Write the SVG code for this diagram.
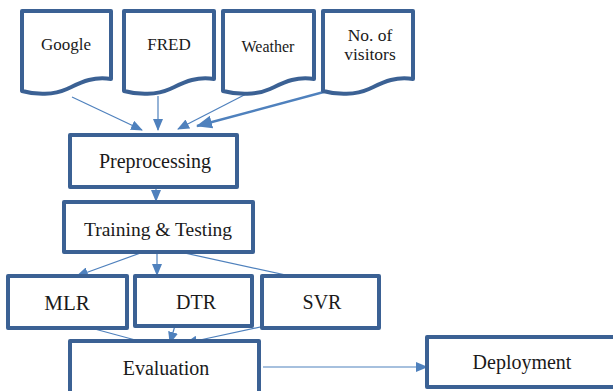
<svg xmlns="http://www.w3.org/2000/svg" width="613" height="391" viewBox="0 0 613 391">
<style>
.box{fill:#fff;stroke:#3b6194;stroke-width:4;stroke-linejoin:round}
.t{font-family:'Liberation Serif','DejaVu Serif',serif;fill:#1a1a1a;text-anchor:middle}
.c{stroke:#4f81bd;stroke-width:1.2;fill:none}
.ck{stroke:#4f81bd;stroke-width:2.4;fill:none}
</style>
<defs>
<marker id="ah" markerUnits="userSpaceOnUse" markerWidth="12" markerHeight="10" refX="11" refY="5" orient="auto">
<path d="M0,0 L12,5 L0,10 Z" fill="#4f81bd"/>
</marker>
<marker id="ahb" markerUnits="userSpaceOnUse" markerWidth="16" markerHeight="13" refX="15" refY="6.5" orient="auto">
<path d="M0,0 L16,6.5 L0,13 Z" fill="#4f81bd"/>
</marker>
</defs>
<g id="connectors">
<line class="c" x1="72" y1="97" x2="142" y2="130" marker-end="url(#ah)"/>
<line class="c" x1="158" y1="96" x2="158" y2="130" marker-end="url(#ah)"/>
<line class="c" x1="252" y1="91" x2="178" y2="129" marker-end="url(#ah)"/>
<line class="ck" x1="361" y1="82" x2="197" y2="126" marker-end="url(#ahb)"/>
<line class="c" x1="156" y1="175" x2="156" y2="201" marker-end="url(#ah)"/>
<line class="c" x1="157" y1="247" x2="77" y2="276" marker-end="url(#ah)"/>
<line class="c" x1="157" y1="247" x2="157" y2="275" marker-end="url(#ah)"/>
<line class="c" x1="157" y1="247" x2="318" y2="282" marker-end="url(#ah)"/>
<line class="c" x1="65" y1="321" x2="165" y2="348" marker-end="url(#ah)"/>
<line class="c" x1="176" y1="322" x2="170" y2="343" marker-end="url(#ah)"/>
<line class="c" x1="288" y1="321" x2="186" y2="343" marker-end="url(#ah)"/>
<line class="c" x1="263" y1="367" x2="427" y2="367" marker-end="url(#ah)"/>
</g>
<g id="google">
<path class="box" d="M22,11 H111 V79 C92,76 80,83 67,89 C54,95 36,95 22,91 Z"/>
<text class="t" x="66" y="50" font-size="17">Google</text>
</g>
<g id="fred">
<path class="box" d="M124,11 H214 V79 C195,76 183,83 170,89 C157,95 138,95 124,91 Z"/>
<text class="t" x="169" y="50" font-size="17">FRED</text>
</g>
<g id="weather">
<path class="box" d="M223,11 H314 V79 C295,76 283,83 270,89 C257,95 238,95 223,91 Z"/>
<text class="t" x="268" y="52" font-size="16">Weather</text>
</g>
<g id="visitors">
<path class="box" d="M323,11 H413 V79 C394,76 382,83 369,89 C356,95 337,95 323,91 Z"/>
<text class="t" x="370" y="41" font-size="17.5">No. of</text>
<text class="t" x="370" y="60" font-size="17.5">visitors</text>
</g>
<g id="preprocessing">
<rect class="box" x="70" y="135" width="167" height="52"/>
<text class="t" x="155" y="168" font-size="20">Preprocessing</text>
</g>
<g id="training">
<rect class="box" x="64" y="202" width="189" height="50"/>
<text class="t" x="158" y="236" font-size="19.5">Training &amp; Testing</text>
</g>
<g id="mlr">
<rect class="box" x="8" y="276" width="119" height="52"/>
<text class="t" x="67" y="310" font-size="21">MLR</text>
</g>
<g id="dtr">
<rect class="box" x="135" y="276" width="117" height="50"/>
<text class="t" x="196" y="309" font-size="20">DTR</text>
</g>
<g id="svr">
<rect class="box" x="262" y="276" width="117" height="52"/>
<text class="t" x="322" y="309" font-size="20">SVR</text>
</g>
<g id="evaluation">
<rect class="box" x="70" y="341" width="189" height="60"/>
<text class="t" x="166" y="375" font-size="20">Evaluation</text>
</g>
<g id="deployment">
<rect class="box" x="427" y="337" width="200" height="50"/>
<text class="t" x="522" y="369" font-size="20">Deployment</text>
</g>
</svg>
